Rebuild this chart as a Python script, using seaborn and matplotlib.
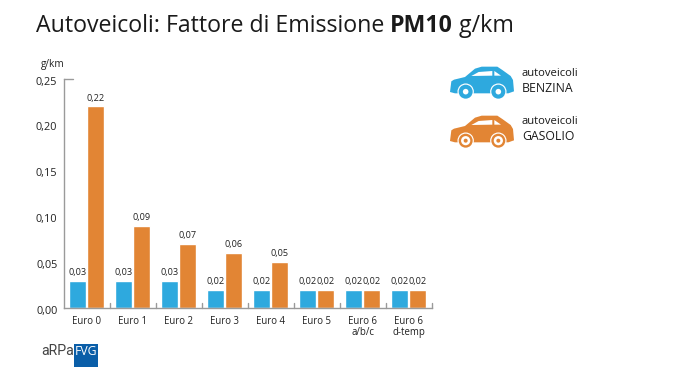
import matplotlib
matplotlib.use("Agg")
import matplotlib.pyplot as plt
from matplotlib.patches import Polygon, Circle, Rectangle
import pandas as pd
import seaborn as sns

categories = ["Euro 0", "Euro 1", "Euro 2", "Euro 3", "Euro 4", "Euro 5", "Euro 6\na/b/c", "Euro 6\nd-temp"]
benzina = [0.03, 0.03, 0.03, 0.02, 0.02, 0.02, 0.02, 0.02]
gasolio = [0.22, 0.09, 0.07, 0.06, 0.05, 0.02, 0.02, 0.02]
yticks = [0.00, 0.05, 0.10, 0.15, 0.20, 0.25]
BLUE, ORANGE = "#2ea9de", "#e28534"

sns.set_theme(style="white")
plt.rcParams["font.family"] = ["Open Sans", "DejaVu Sans"]
W, H = 674, 373
fig = plt.figure(figsize=(W / 100, H / 100), dpi=100, facecolor="white")

x0, x1, ytop, ybot = 63.5, 431.5, 79, 308
ax = fig.add_axes([x0 / W, 1 - ybot / H, (x1 - x0) / W, (ybot - ytop) / H])
df = pd.DataFrame({
    "cat": categories * 2,
    "val": benzina + gasolio,
    "fuel": ["BENZINA"] * 8 + ["GASOLIO"] * 8,
})
sns.barplot(data=df, x="cat", y="val", hue="fuel", order=categories,
            palette={"BENZINA": BLUE, "GASOLIO": ORANGE},
            width=0.79, gap=0.08, legend=False, ax=ax, saturation=1)
ax.set_xlim(-0.5, 7.5)
ax.set_ylim(0, 0.25)
ax.set_xlabel("")
ax.set_ylabel("")
for s in ("top", "right"):
    ax.spines[s].set_visible(False)
for s in ("left", "bottom"):
    ax.spines[s].set_color("#9a9a9a")
    ax.spines[s].set_linewidth(1)

for c in ax.containers:
    ax.bar_label(c, labels=[f"{b.get_height():.2f}".replace(".", ",") for b in c],
                 padding=2.8, fontsize=6.6, color="#222222")

# axis furniture
ax.set_yticks(yticks, [])
ax.tick_params(axis="y", length=0)
for v in yticks:
    ax.annotate(f"{v:.2f}".replace(".", ","), (0, v), xycoords=("axes fraction", "data"),
                xytext=(-4.5, -2.2), textcoords="offset points", ha="right", va="center",
                fontsize=7.8, color="#222222", annotation_clip=False)
ax.plot([0, 9 / (x1 - x0)], [0.25, 0.25], transform=ax.get_yaxis_transform(),
        color="#9a9a9a", lw=1, clip_on=False)
ax.set_xticks(range(8), [])
ax.tick_params(axis="x", length=0)
for i, lab in enumerate(categories):
    ax.annotate(lab, (i, 0), xycoords=("data", "axes fraction"), xytext=(0, -5.8),
                textcoords="offset points", ha="center", va="top", fontsize=6.9,
                color="#222222", linespacing=0.95, annotation_clip=False)
for i in range(1, 9):
    ax.plot([i - 0.5] * 2, [0, 5 / (ybot - ytop) * 0.25], color="#9a9a9a", lw=1,
            clip_on=False, zorder=1)

# overlay in pixel coordinates for title, icons and logo
ov = fig.add_axes([0, 0, 1, 1], facecolor="none")
ov.set_xlim(0, W)
ov.set_ylim(H, 0)
ov.axis("off")

t1 = ov.text(36, 25.5, "Autoveicoli: Fattore di Emissione ", fontsize=16.7, color="#1a1a1a", va="center")
t2 = ov.annotate("PM10", xy=(1, 0), xycoords=t1, va="bottom", ha="left",
                 fontsize=16.7, fontweight="bold", color="#1a1a1a")
ov.annotate(" g/km", xy=(1, 0), xycoords=t2, va="bottom", ha="left", fontsize=16.7, color="#1a1a1a")
ov.text(41, 64.5, "g/km", fontsize=7.2, color="#222222", va="center")


def car(ox, oy, col, gasoil):
    def P(pts):
        return [(ox + a / 3, oy + b / 3) for a, b in pts]
    ov.add_patch(Polygon(P([(60, 126), (64, 94), (72, 89), (105, 81), (135, 56), (155, 50), (202, 50),
                            (217, 60), (242, 78), (249, 90), (252, 124), (235, 130), (75, 130)]),
                         fc=col, ec="none"))
    ov.add_patch(Polygon(P([(124, 78), (146, 66), (187, 63), (187, 77)]), fc="white", ec="none"))
    ov.add_patch(Polygon(P([(193, 63), (213, 77), (193, 77)]), fc="white", ec="none"))
    for wx in (107, 205):
        c = (ox + wx / 3, oy + 125 / 3)
        ov.add_patch(Circle(c, 8.2, fc="white", ec="none"))
        ov.add_patch(Circle(c, 7.0, fc=col, ec="none"))
        ov.add_patch(Circle(c, 4.6 if gasoil else 2.8, fc="white", ec="none"))
        if gasoil:
            ov.add_patch(Circle(c, 2.0, fc=col, ec="none"))


car(430, 50, BLUE, False)
car(430, 99, ORANGE, True)
for yy, lab in ((73, "BENZINA"), (122, "GASOLIO")):
    ov.text(522, yy, "autoveicoli", fontsize=8.1, color="#1a1a1a", va="center")
    ov.text(522, yy + 15, lab, fontsize=8.8, color="#1a1a1a", va="center")

ov.text(41, 351, "aRPa", fontsize=10.2, color="#444444", va="center", family="Roboto")
ov.add_patch(Rectangle((73.5, 344), 24.5, 23, fc="#0a5ea8", ec="none"))
ov.text(85.8, 351.5, "FVG", fontsize=8.8, color="white", va="center", ha="center")

fig.savefig("out.png", dpi=100, facecolor="white")
